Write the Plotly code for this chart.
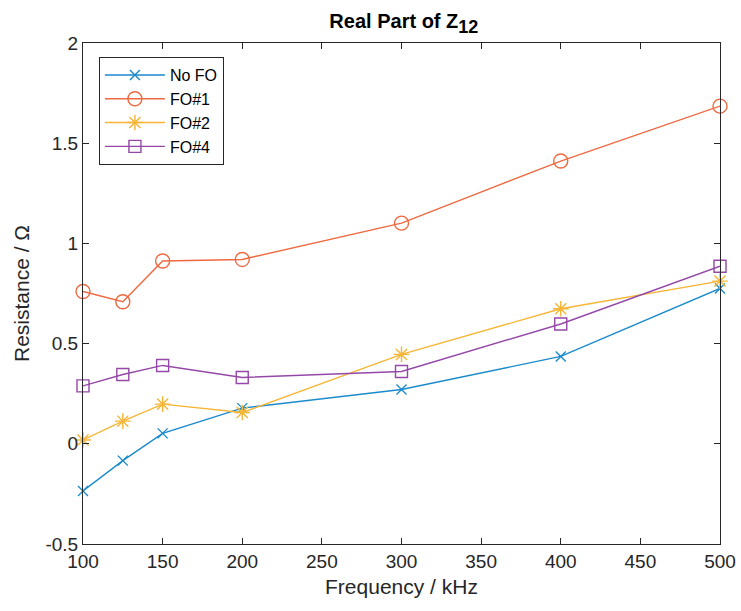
import plotly.graph_objects as go

# Frequency points (kHz)
freq = [100, 125, 150, 200, 300, 400, 500]

# Real part of Z12 (Ohm) for each configuration
no_fo = [-0.235, -0.084, 0.052, 0.178, 0.271, 0.436, 0.775]
fo1 = [0.760, 0.709, 0.912, 0.920, 1.101, 1.411, 1.685]
fo2 = [0.019, 0.113, 0.198, 0.156, 0.446, 0.674, 0.812]
fo4 = [0.289, 0.346, 0.391, 0.331, 0.361, 0.598, 0.886]

series_names = ["No FO", "FO#1", "FO#2", "FO#4"]
series_vals = [no_fo, fo1, fo2, fo4]
series_colors = ["#1A8ACB", "#EE6940", "#F6B535", "#9548A8"]
series_symbols = ["x-thin-open", "circle-open", "asterisk-open", "square-open"]
series_sizes = [10, 14, 13, 12]

x_ticks = [100, 150, 200, 250, 300, 350, 400, 450, 500]
y_ticks = [-0.5, 0, 0.5, 1, 1.5, 2]
y_tick_text = ["-0.5", "0", "0.5", "1", "1.5", "2"]

FONT = "Liberation Sans, Arial, Helvetica, sans-serif"
INK = "#262626"

fig = go.Figure()
for name, vals, col, sym, sz in zip(series_names, series_vals, series_colors,
                                    series_symbols, series_sizes):
    fig.add_trace(go.Scatter(
        x=freq, y=vals, name=name, mode="lines+markers",
        line=dict(color=col, width=1.4),
        marker=dict(symbol=sym, size=sz, color=col,
                    line=dict(color=col, width=1.4)),
        cliponaxis=False,
    ))

axis_common = dict(
    showgrid=False, zeroline=False, showline=True, linecolor=INK, linewidth=1,
    mirror="ticks", ticks="inside", ticklen=6, tickcolor=INK, tickwidth=1,
    automargin=False,
    tickfont=dict(family=FONT, size=19, color=INK),
)

fig.update_layout(
    width=741, height=611,
    margin=dict(l=83, r=21, t=43, b=67),
    paper_bgcolor="white", plot_bgcolor="white",
    font=dict(family=FONT, color=INK),
    title=dict(text="<b>Real Part of Z<sub><span style='font-size:18px'>12</span></sub></b>",
               x=0.545, xanchor="center", y=0.965, yanchor="middle",
               font=dict(family=FONT, size=20, color="#000000")),
    xaxis=dict(range=[100, 500], tickvals=x_ticks,
               title=dict(text="Frequency / kHz", standoff=8,
                          font=dict(family=FONT, size=21, color=INK)),
               **axis_common),
    yaxis=dict(range=[-0.5, 2], tickvals=y_ticks, ticktext=y_tick_text,
               title=dict(text="Resistance / Ω", standoff=10,
                          font=dict(family=FONT, size=21, color=INK)),
               **axis_common),
    legend=dict(x=0.025, y=0.972, xanchor="left", yanchor="top",
                bgcolor="white", bordercolor=INK, borderwidth=1,
                font=dict(family=FONT, size=16, color="#000000"),
                itemwidth=60, tracegroupgap=0),
    showlegend=True,
)

fig.write_html("out.html")
